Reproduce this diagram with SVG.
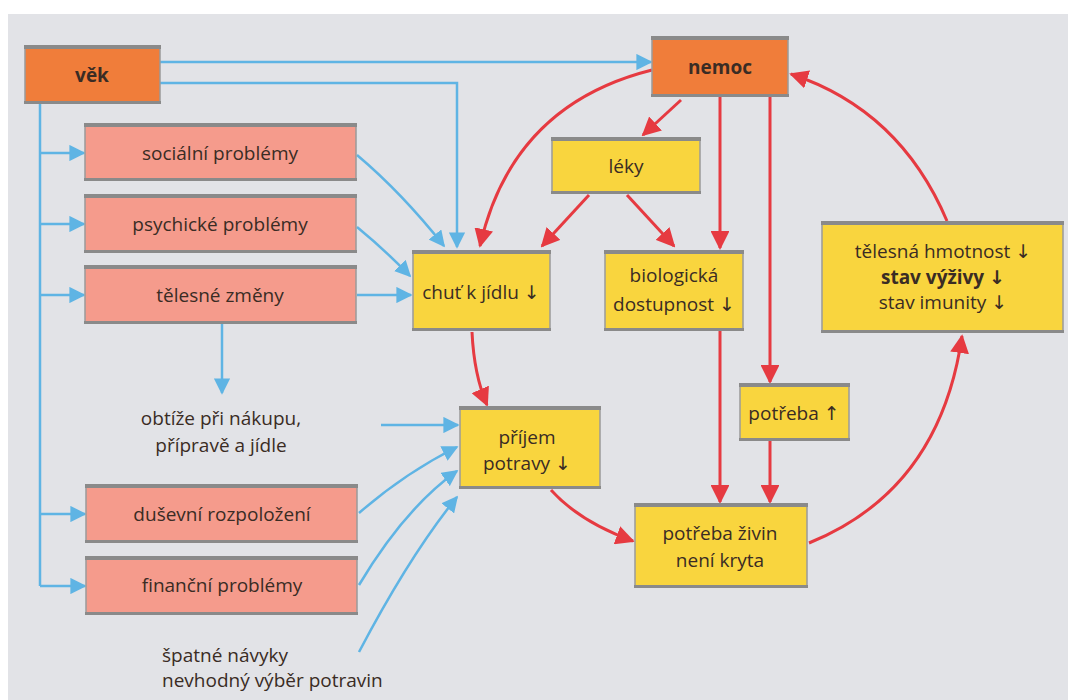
<svg xmlns="http://www.w3.org/2000/svg" width="1068" height="700" viewBox="0 0 1068 700">
<defs>
<style>
.bg{fill:#e2e3e7}
.box{stroke:#9a9a9a;stroke-width:1.5}
.o{fill:#f07d3a}
.p{fill:#f59b8c}
.y{fill:#f9d53e}
.bar{fill:#8a8a8a}
.t{font-family:"Open Sans","Noto Sans","DejaVu Sans",sans-serif;font-size:19px;fill:#3a2c24;text-anchor:middle}
.b{font-weight:bold}
.l{text-anchor:start}
.bl{fill:none;stroke:#5fb4e4;stroke-width:2.5}
.rd{fill:none;stroke:#e63a41;stroke-width:3}
</style>
<marker id="ab" viewBox="0 0 10 10" refX="9" refY="5" markerWidth="6.5" markerHeight="6.5" markerUnits="strokeWidth" orient="auto"><path d="M0,0 L10,5 L0,10 z" fill="#5fb4e4"/></marker>
<marker id="ar" viewBox="0 0 10 10" refX="9" refY="5" markerWidth="6.3" markerHeight="6.3" markerUnits="strokeWidth" orient="auto"><path d="M0,0 L10,5 L0,10 z" fill="#e63a41"/></marker>
</defs>
<rect x="0" y="0" width="1068" height="700" fill="#ffffff"/>
<rect class="bg" x="8" y="14" width="1060" height="686"/>

<g id="connectors">
<!-- blue -->
<path class="bl" d="M160,62 H651" marker-end="url(#ab)"/>
<path class="bl" d="M160,83 H457 V247" marker-end="url(#ab)"/>
<path class="bl" d="M40,103 V586"/>
<path class="bl" d="M40,153 H84" marker-end="url(#ab)"/>
<path class="bl" d="M40,224 H84" marker-end="url(#ab)"/>
<path class="bl" d="M40,295 H84" marker-end="url(#ab)"/>
<path class="bl" d="M40,514 H85" marker-end="url(#ab)"/>
<path class="bl" d="M40,586 H85" marker-end="url(#ab)"/>
<path class="bl" d="M357,155 Q402,193 444,246" marker-end="url(#ab)"/>
<path class="bl" d="M357,227 Q385,250 410,276" marker-end="url(#ab)"/>
<path class="bl" d="M357,295 H411" marker-end="url(#ab)"/>
<path class="bl" d="M222,323 V393" marker-end="url(#ab)"/>
<path class="bl" d="M381,425 H458" marker-end="url(#ab)"/>
<path class="bl" d="M359,513 Q405,473 457,447" marker-end="url(#ab)"/>
<path class="bl" d="M359,585 Q405,508 457,471" marker-end="url(#ab)"/>
<path class="bl" d="M359,652 Q410,555 457,497" marker-end="url(#ab)"/>
<!-- red -->
<path class="rd" d="M652,70 Q512,105 480,246" marker-end="url(#ar)"/>
<path class="rd" d="M681,100 L643,135" marker-end="url(#ar)"/>
<path class="rd" d="M720,96 V248" marker-end="url(#ar)"/>
<path class="rd" d="M770,96 V382" marker-end="url(#ar)"/>
<path class="rd" d="M589,195 L542,246" marker-end="url(#ar)"/>
<path class="rd" d="M627,195 L674,246" marker-end="url(#ar)"/>
<path class="rd" d="M472,332 Q474,375 487,405" marker-end="url(#ar)"/>
<path class="rd" d="M720,330 V502" marker-end="url(#ar)"/>
<path class="rd" d="M770,440 V502" marker-end="url(#ar)"/>
<path class="rd" d="M551,490 Q580,522 633,541" marker-end="url(#ar)"/>
<path class="rd" d="M809,543 Q940,490 962,336" marker-end="url(#ar)"/>
<path class="rd" d="M947,221 Q900,110 791,74" marker-end="url(#ar)"/>
</g>

<g id="vek">
<rect class="box o" x="25" y="47" width="135" height="56"/>
<rect class="bar" x="24" y="45" width="137" height="4"/>
<rect class="bar" x="24" y="101" width="137" height="3"/>
<text class="t b" x="92" y="82">věk</text>
</g>
<g id="nemoc">
<rect class="box o" x="652" y="38" width="136" height="58"/>
<rect class="bar" x="651" y="36" width="138" height="4"/>
<rect class="bar" x="651" y="94" width="138" height="3"/>
<text class="t b" x="720" y="74">nemoc</text>
</g>
<g id="socialni">
<rect class="box p" x="85" y="125" width="271" height="55"/>
<rect class="bar" x="84" y="123" width="273" height="4"/>
<rect class="bar" x="84" y="178" width="273" height="3"/>
<text class="t" x="220" y="160">sociální problémy</text>
</g>
<g id="psychicke">
<rect class="box p" x="85" y="196" width="271" height="56"/>
<rect class="bar" x="84" y="194" width="273" height="4"/>
<rect class="bar" x="84" y="250" width="273" height="3"/>
<text class="t" x="220" y="231">psychické problémy</text>
</g>
<g id="telesne">
<rect class="box p" x="85" y="267" width="271" height="56"/>
<rect class="bar" x="84" y="265" width="273" height="4"/>
<rect class="bar" x="84" y="321" width="273" height="3"/>
<text class="t" x="220" y="302">tělesné změny</text>
</g>
<g id="dusevni">
<rect class="box p" x="86" y="486" width="271" height="56"/>
<rect class="bar" x="85" y="484" width="273" height="4"/>
<rect class="bar" x="85" y="540" width="273" height="3"/>
<text class="t" x="222" y="521">duševní rozpoložení</text>
</g>
<g id="financni">
<rect class="box p" x="86" y="558" width="271" height="56"/>
<rect class="bar" x="85" y="556" width="273" height="4"/>
<rect class="bar" x="85" y="612" width="273" height="3"/>
<text class="t" x="222" y="592">finanční problémy</text>
</g>
<g id="leky">
<rect class="box y" x="552" y="139" width="148" height="54"/>
<rect class="bar" x="551" y="137" width="150" height="4"/>
<rect class="bar" x="551" y="191" width="150" height="3"/>
<text class="t" x="626" y="173">léky</text>
</g>
<g id="chut">
<rect class="box y" x="413" y="252" width="137" height="78"/>
<rect class="bar" x="412" y="250" width="139" height="4"/>
<rect class="bar" x="412" y="328" width="139" height="3"/>
<text class="t" x="481" y="299">chuť k jídlu ↓</text>
</g>
<g id="biologicka">
<rect class="box y" x="605" y="252" width="138" height="78"/>
<rect class="bar" x="604" y="250" width="140" height="4"/>
<rect class="bar" x="604" y="328" width="140" height="3"/>
<text class="t" x="674" y="282">biologická</text>
<text class="t" x="674" y="311">dostupnost ↓</text>
</g>
<g id="stav">
<rect class="box y" x="822" y="223" width="241" height="109"/>
<rect class="bar" x="821" y="221" width="243" height="4"/>
<rect class="bar" x="821" y="330" width="243" height="3"/>
<text class="t" x="943" y="258">tělesná hmotnost ↓</text>
<text class="t b" x="943" y="284">stav výživy ↓</text>
<text class="t" x="943" y="309">stav imunity ↓</text>
</g>
<g id="prijem">
<rect class="box y" x="460" y="408" width="140" height="80"/>
<rect class="bar" x="459" y="406" width="142" height="4"/>
<rect class="bar" x="459" y="486" width="142" height="3"/>
<text class="t" x="527" y="444">příjem</text>
<text class="t" x="527" y="470">potravy ↓</text>
</g>
<g id="potreba">
<rect class="box y" x="740" y="385" width="109" height="55"/>
<rect class="bar" x="739" y="383" width="111" height="4"/>
<rect class="bar" x="739" y="438" width="111" height="3"/>
<text class="t" x="794" y="420">potřeba ↑</text>
</g>
<g id="potreba-zivin">
<rect class="box y" x="635" y="505" width="172" height="82"/>
<rect class="bar" x="634" y="503" width="174" height="4"/>
<rect class="bar" x="634" y="585" width="174" height="3"/>
<text class="t" x="720" y="540">potřeba živin</text>
<text class="t" x="720" y="567">není kryta</text>
</g>
<g id="obtize">
<text class="t" x="221" y="425">obtíže při nákupu,</text>
<text class="t" x="221" y="452">přípravě a jídle</text>
</g>
<g id="spatne">
<text class="t l" x="162" y="662">špatné návyky</text>
<text class="t l" x="162" y="687">nevhodný výběr potravin</text>
</g>
</svg>
